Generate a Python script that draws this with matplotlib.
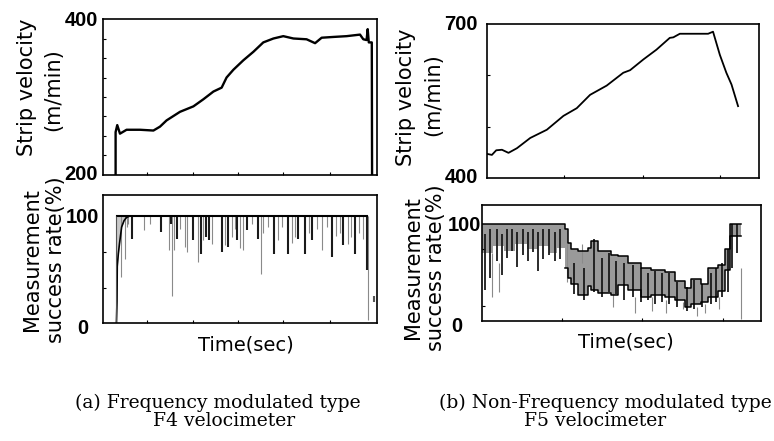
import numpy as np
import matplotlib
matplotlib.use("Agg")
import matplotlib.pyplot as plt

# ---- (a) F4 velocimeter : strip velocity (m/min) vs time ----
a_vel_t = [4.6, 4.6, 5.2, 6.2, 8.6, 13.5, 18.4, 20.8, 23.2, 28.1, 33.0, 36.6, 40.3,
           43.3, 45.1, 47.6, 51.2, 54.9, 58.5, 62.2, 65.8, 69.5, 74.3, 77.4, 79.8,
           84.1, 88.9, 93.8, 95.0, 96.2, 96.6, 97.0, 98.1, 98.2]
a_vel_v = [200, 255, 264, 253, 258, 258, 257, 262, 270, 281, 288, 297, 307,
           312, 325, 335, 347, 358, 370, 375, 378, 375, 374, 369, 376,
           377, 378, 380, 374, 373, 387, 370, 370, 200]

# ---- (a) measurement success rate (%) ----
a_ramp_t = [4.9, 5.1, 5.2, 5.6, 6.0, 6.8, 7.7, 8.6, 9.5]
a_ramp_v = [0, 20, 53, 65, 74, 90, 96, 99, 100]
a_top_t = [5.1, 96.5]
a_top_v = [100, 100]
a_dark_t = [10.7, 21.2, 24.8, 27.1, 33.0, 35.8, 37.6, 38.8, 43.3, 45.7, 48.8,
            52.4, 56.4, 62.5, 67.6, 71.3, 73.9, 76.4, 83.5, 87.7, 92.0, 96.3]
a_dark_lo = [79, 85, 93, 79, 78, 65, 81, 78, 67, 71, 78,
             87, 79, 65, 65, 79, 65, 78, 62, 73, 65, 50]
a_light_t = [6.4, 8.0, 8.6, 9.2, 15.1, 17.2, 24.1, 25.2, 25.9, 28.1, 29.9, 30.5,
             34.8, 36.6, 39.7, 44.5, 47.0, 48.2, 50.0, 51.2, 54.3, 57.7, 58.5,
             60.3, 64.0, 65.2, 68.8, 70.1, 75.2, 78.0, 80.1, 81.7, 85.0, 86.6,
             89.5, 90.5, 93.4, 95.0, 96.8]
a_light_lo = [43, 60, 90, 93, 87, 93, 68, 25, 68, 88, 71, 67,
              57, 78, 74, 73, 81, 88, 70, 68, 93, 46, 84,
              90, 78, 90, 75, 81, 84, 88, 68, 90, 82, 84,
              74, 81, 84, 79, 3]

# ---- (b) F5 velocimeter : strip velocity (m/min) vs time ----
b_vel_t = [0, 1.8, 3.4, 5.5, 7.9, 11.0, 15.9, 22.0, 28.1, 33.0, 37.9, 44.0, 50.1,
           52.6, 57.5, 62.3, 67.2, 68.5, 70.9, 77.0, 81.3, 83.1, 85.6, 88.0, 89.9, 92.3]
b_vel_v = [447, 445, 454, 455, 449, 458, 478, 494, 521, 536, 562, 580, 605,
           610, 631, 650, 673, 674, 681, 681, 681, 685, 640, 605, 582, 540]

# ---- (b) measurement success rate (%) : band envelope (step) ----
b_band_t = [0, 4, 8, 12, 16, 20, 24, 27, 29.6, 30.8, 32.0, 34.4, 38.0, 39.2, 41.6,
            46.4, 48.7, 52.3, 57.1, 60.7, 65.5, 69.1, 72.7, 75.0, 78.6, 81.0,
            84.6, 87.0, 88.8, 92.8]
b_band_hi = [100, 100, 100, 100, 100, 100, 100, 100, 95, 81, 74, 72, 76, 83, 72,
             68, 67, 60, 55, 53, 51, 41, 34, 43, 38, 55,
             58, 74, 100, 100]
b_band_lo = [70, 78, 72, 80, 74, 78, 70, 76, 55, 45, 38, 27, 36, 32, 29,
             27, 37, 32, 25, 27, 25, 22, 15, 18, 20, 25,
             31, 53, 88, 88]
b_dark_t = [1.1, 2.9, 5.3, 7.0, 8.8, 10.6, 12.4, 14.8, 16.6, 18.4, 20.2, 22.0, 24.1,
            26.2, 28.0, 33.0, 36.5, 40.0, 43.0, 45.5, 48.0, 51.0, 54.0, 57.0, 59.5,
            62.0, 64.5, 67.0, 70.0, 73.5, 76.0, 79.0, 82.0, 84.0, 86.0, 88.2, 89.5, 91.5]
b_dark_lo = [32, 45, 62, 48, 65, 72, 56, 68, 62, 71, 52, 64, 68,
             62, 64, 28, 22, 30, 25, 30, 28, 22, 25, 20, 22,
             18, 20, 18, 15, 10, 12, 15, 18, 20, 25, 30, 55, 70]
b_dark_hi = [90, 95, 95, 90, 95, 95, 92, 95, 92, 95, 92, 95, 95,
             92, 95, 60, 55, 85, 65, 70, 62, 60, 58, 55, 50,
             52, 50, 50, 40, 35, 42, 38, 50, 55, 60, 75, 100, 100]
b_light_t = [3.5, 6.0, 30.5, 36.0, 47.0, 55.0, 61.0, 66.0, 72.0, 77.0, 80.0, 85.0, 93.0]
b_light_lo = [25, 30, 40, 60, 15, 8, 10, 8, 12, 5, 8, 12, 2]
b_light_hi = [70, 60, 80, 80, 30, 25, 25, 22, 20, 15, 18, 25, 55]

fig = plt.figure(figsize=(7.74, 4.41), dpi=100)
W, H = 774.0, 441.0


def axes_px(x0, y0, x1, y1):
    return fig.add_axes([x0 / W, 1 - y1 / H, (x1 - x0) / W, (y1 - y0) / H])


def style(ax, ylo, yhi, xminor, yminor):
    for s in ax.spines.values():
        s.set_linewidth(1.2)
    ax.set_xlim(0, 100)
    ax.set_ylim(ylo, yhi)
    ax.set_xticks([])
    ax.set_xticks(xminor, minor=True)
    ax.set_yticks([])
    ax.set_yticks(yminor, minor=True)
    ax.tick_params(which="minor", direction="in", length=2.5, width=0.8)


def ylab(ax, val, txt, dx, dy=0):
    # tick labels centred on a column left of the axis (dx, dy in pixels)
    ax.annotate(txt, xy=(0, val), xycoords=("axes fraction", "data"),
                xytext=(-dx * 0.72, -dy * 0.72), textcoords="offset points",
                ha="center", va="center", family="Liberation Sans",
                weight="bold", size=14.5)


# (a) top
ax1 = axes_px(103, 19, 377, 175)
ax1.plot(a_vel_t, a_vel_v, color="black", lw=1.7)
style(ax1, 200, 400, [16.1, 32.8, 49.3, 65.7, 82.8], [225, 250, 275, 300, 325, 350, 375])
ylab(ax1, 400, "400", 22, 1)
ylab(ax1, 200, "200", 22, 0)

# (a) bottom
ax2 = axes_px(103, 195, 377, 323)
ax2.fill_between(a_ramp_t, a_ramp_v, 100, color="#c8c8c8", lw=0)
ax2.vlines(a_light_t, a_light_lo, 100, color="#8a8a8a", lw=0.8)
ax2.vlines(a_dark_t, a_dark_lo, 100, color="#1a1a1a", lw=1.5)
ax2.plot(a_ramp_t, a_ramp_v, color="black", lw=1.2)
ax2.plot(a_top_t, a_top_v, color="black", lw=1.5)
ax2.vlines([4.8], 0, 100, color="#555555", lw=0.8)
ax2.vlines([99.0], 20, 25, color="#555555", lw=1.5)
style(ax2, 0, 120, [16.1, 32.8, 49.3, 65.7, 82.8], [33, 67])
ylab(ax2, 100, "100", 21, 1)
ylab(ax2, 0, "0", 20, 5)

# (b) top
ax3 = axes_px(487, 24, 759, 178)
ax3.plot(b_vel_t, b_vel_v, color="black", lw=1.3)
style(ax3, 400, 700, [28.3, 57.4, 85.7], [500, 600])
ylab(ax3, 700, "700", 26, 0)
ylab(ax3, 400, "400", 26, 0)

# (b) bottom
ax4 = axes_px(482, 205, 761, 321)
ax4.fill_between(b_band_t, b_band_lo, b_band_hi, step="post", color="#9a9a9a", lw=0)
ax4.vlines(b_light_t, b_light_lo, b_light_hi, color="#8a8a8a", lw=0.8)
ax4.vlines(b_dark_t, b_dark_lo, b_dark_hi, color="#1a1a1a", lw=1.3)
ax4.step(b_band_t, b_band_hi, where="post", color="black", lw=1.1)
ax4.step(b_band_t[8:], b_band_lo[8:], where="post", color="black", lw=1.1)
style(ax4, 0, 120, [28.7, 57.5, 86.4], [16, 74])
ylab(ax4, 100, "100", 18, 1)
ylab(ax4, 0, "0", 25, 5)

# axis labels
lab = dict(family="DejaVu Sans", size=15, rotation=90, ha="center", va="center")
fig.text(27 / W, 1 - 87 / H, "Strip velocity", **lab)
fig.text(53 / W, 1 - 90 / H, "(m/min)", **lab)
fig.text(32 / W, 1 - 260 / H, "Measurement", **lab)
fig.text(56 / W, 1 - 260 / H, "success rate(%)", **lab)
fig.text(406 / W, 1 - 97 / H, "Strip velocity", **lab)
fig.text(433 / W, 1 - 95 / H, "(m/min)", **lab)
fig.text(413 / W, 1 - 268 / H, "Measurement", **lab)
fig.text(436 / W, 1 - 268 / H, "success rate(%)", **lab)

tl = dict(family="DejaVu Sans", size=14, ha="center", va="center")
fig.text(246 / W, 1 - 345 / H, "Time(sec)", **tl)
fig.text(626 / W, 1 - 342 / H, "Time(sec)", **tl)

cap = dict(family="DejaVu Serif", size=13.5, ha="center", va="center")
fig.text(218 / W, 1 - 403 / H, "(a) Frequency modulated type", **cap)
fig.text(224 / W, 1 - 421 / H, "F4 velocimeter", **cap)
fig.text(605 / W, 1 - 403 / H, "(b) Non-Frequency modulated type", **cap)
fig.text(595 / W, 1 - 421 / H, "F5 velocimeter", **cap)

fig.savefig("out.png", dpi=100)
